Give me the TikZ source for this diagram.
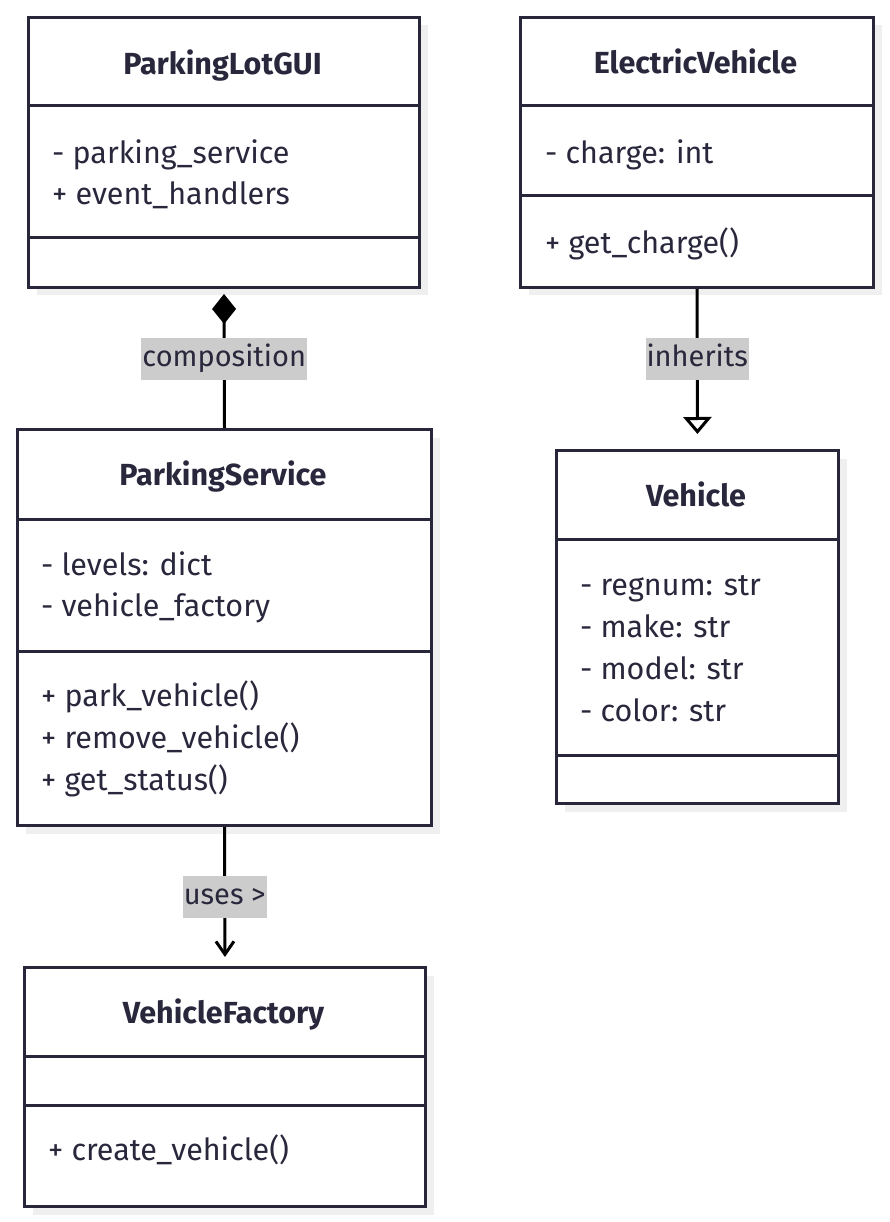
\documentclass[tikz,border=0pt]{standalone}
\usepackage{fontspec}
\setmainfont{Fira Sans}
\usetikzlibrary{arrows.meta,shadows}
\definecolor{boxline}{RGB}{39,38,58}
\definecolor{txt}{RGB}{40,39,60}
\definecolor{shadowgray}{RGB}{239,239,239}
\definecolor{labelgray}{RGB}{204,204,204}
\tikzset{
  classbox/.style={draw=boxline, line width=3pt, fill=white, anchor=north west, inner sep=0pt,
    copy shadow={shadow xshift=8pt, shadow yshift=-8pt, fill=shadowgray, draw=none}},
  divider/.style={draw=boxline, line width=3pt},
  title/.style={font=\fontsize{30.5}{36}\selectfont\bfseries, text=txt, text height=27pt, text depth=8pt, inner sep=0pt},
  member/.style={font=\fontsize{30.5}{36}\selectfont, text=txt, anchor=west, text height=27pt, text depth=8pt, inner sep=0pt},
  conn/.style={draw=black, line width=3pt},
  elabel/.style={fill=labelgray, text=txt, font=\fontsize{29}{35}\selectfont, minimum height=42pt, inner xsep=1pt, inner ysep=0pt, text height=23pt, text depth=8pt}
}
\begin{document}
\begin{tikzpicture}[x=1pt,y=-1pt]
\useasboundingbox (0,0) rectangle (889,1222);

% ParkingLotGUI
\node[classbox, minimum width=391pt, minimum height=270pt] (gui) at (27,16) {};
\draw[divider] (gui.west |- 0,106) -- (gui.east |- 0,106);
\draw[divider] (gui.west |- 0,238) -- (gui.east |- 0,238);
\node[title] (guit) at (222.5,65) {ParkingLotGUI};
\node[member] (guia1) at (52,154) {- parking\_service};
\node[member] (guia2) at (52,195) {+ event\_handlers};

% ElectricVehicle
\node[classbox, minimum width=353pt, minimum height=270pt] (ev) at (519,16) {};
\draw[divider] (ev.west |- 0,106) -- (ev.east |- 0,106);
\draw[divider] (ev.west |- 0,196) -- (ev.east |- 0,196);
\node[title] (evt) at (695.5,64) {ElectricVehicle};
\node[member] (eva1) at (545,154) {- charge: int};
\node[member] (evm1) at (545,244) {+ get\_charge()};

% ParkingService
\node[classbox, minimum width=414pt, minimum height=396pt] (ps) at (16,428) {};
\draw[divider] (ps.west |- 0,519) -- (ps.east |- 0,519);
\draw[divider] (ps.west |- 0,651) -- (ps.east |- 0,651);
\node[title] (pst) at (223,476) {ParkingService};
\node[member] (psa1) at (41,566) {- levels: dict};
\node[member] (psa2) at (41,607) {- vehicle\_factory};
\node[member] (psm1) at (41,697) {+ park\_vehicle()};
\node[member] (psm2) at (41,739) {+ remove\_vehicle()};
\node[member] (psm3) at (41,781) {+ get\_status()};

% Vehicle
\node[classbox, minimum width=282pt, minimum height=353pt] (veh) at (555,449) {};
\draw[divider] (veh.west |- 0,539) -- (veh.east |- 0,539);
\draw[divider] (veh.west |- 0,755) -- (veh.east |- 0,755);
\node[title] (veht) at (696,497) {Vehicle};
\node[member] (veha1) at (580,586) {- regnum: str};
\node[member] (veha2) at (580,628) {- make: str};
\node[member] (veha3) at (580,670) {- model: str};
\node[member] (veha4) at (580,712) {- color: str};

% VehicleFactory
\node[classbox, minimum width=401pt, minimum height=239pt] (vf) at (23,966) {};
\draw[divider] (vf.west |- 0,1056) -- (vf.east |- 0,1056);
\draw[divider] (vf.west |- 0,1105) -- (vf.east |- 0,1105);
\node[title] (vft) at (223.5,1014) {VehicleFactory};
\node[member] (vfm1) at (48,1151) {+ create\_vehicle()};

% connectors
\draw[conn, {Diamond[length=30pt, width=24pt, line width=0pt]}-, shorten <=5pt]
  (gui.south) -- node[elabel, pos=0.5] (lcomp) {composition} (ps.north);
\draw[conn, -{Triangle[open, length=17pt, width=28pt, fill=white]}, shorten >=15pt]
  (ev.south) -- node[elabel, pos=0.436] (linh) {inherits} (veh.north);
\draw[conn, -{Straight Barb[length=13pt, width=18pt]}, shorten >=9pt]
  (ps.south) -- node[elabel, pos=0.5] (luses) {uses >} (vf.north);
\end{tikzpicture}
\end{document}
